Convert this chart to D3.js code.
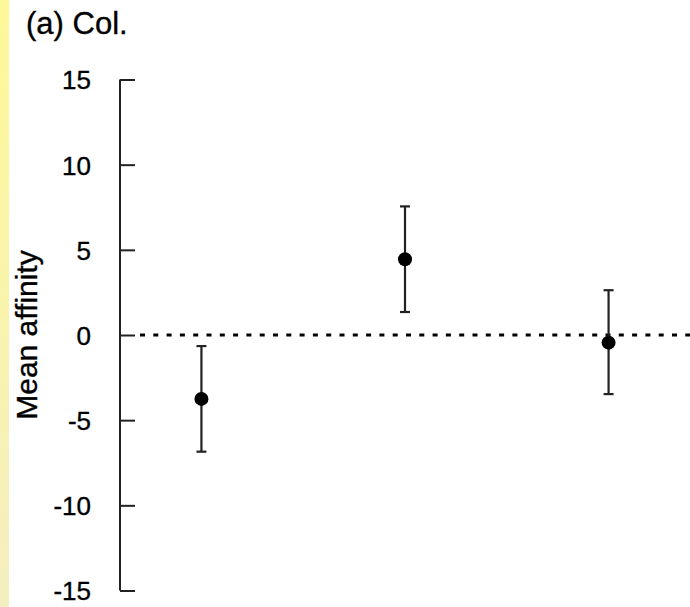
<!DOCTYPE html>
<html>
<head>
<meta charset="utf-8">
<script src="https://cdn.jsdelivr.net/npm/d3@7"></script>
<style>
html,body{margin:0;padding:0;background:#fff;}
svg{display:block;}
text{font-family:"Liberation Sans",Arial,sans-serif;fill:#000;stroke:#000;stroke-width:0.35px;}
</style>
</head>
<body>
<svg id="chart" width="690" height="607"></svg>
<script>
const categories = ["G1", "G2", "G3"];
const means = [-3.75, 4.45, -0.45];
const upper = [-0.65, 7.55, 2.63];
const lower = [-6.85, 1.35, -3.47];
const tickValues = [-15, -10, -5, 0, 5, 10, 15];
const title = "(a) Col.";
const yLabel = "Mean affinity";

const data = categories.map((c, i) => ({cat: c, mean: means[i], hi: upper[i], lo: lower[i]}));

const svg = d3.select("#chart");

// left yellow strip
const defs = svg.append("defs");
const grad = defs.append("linearGradient").attr("id", "strip").attr("x1", 0).attr("y1", 0).attr("x2", 0).attr("y2", 1);
grad.append("stop").attr("offset", "0%").attr("stop-color", "#fef898");
grad.append("stop").attr("offset", "100%").attr("stop-color", "#f4efc0");
svg.append("rect").attr("x", 0).attr("y", 0).attr("width", 9).attr("height", 607).attr("fill", "url(#strip)");

const x = d3.scalePoint().domain(categories).range([120, 690]).padding(0.4);
const y = d3.scaleLinear().domain([-15, 15]).range([590.5, 79.5]);

// axis
const axis = d3.axisLeft(y).tickValues(tickValues).tickSize(-15).tickPadding(0).tickFormat(d3.format("d"));
const gAxis = svg.append("g").attr("transform", "translate(120,0)").call(axis);
gAxis.select(".domain").remove();
gAxis.append("line").attr("x1", 0).attr("x2", 0).attr("y1", y(15)).attr("y2", y(-15))
  .attr("stroke", "#222").attr("stroke-width", 2);
gAxis.selectAll(".tick line").attr("stroke", "#222").attr("stroke-width", 2);
gAxis.selectAll(".tick text").attr("x", -29).attr("font-size", 26).attr("fill", "#000")
  .attr("font-family", "Liberation Sans, Arial, sans-serif").attr("dy", "0.36em")
  .text(d => d < 0 ? "-" + Math.abs(d) : d);

// zero reference line
svg.append("line").attr("x1", 140).attr("x2", 690).attr("y1", y(0)).attr("y2", y(0))
  .attr("stroke", "#000").attr("stroke-width", 3).attr("stroke-dasharray", "5 8.3");

// error bars
const g = svg.append("g");
const bars = g.selectAll("g.bar").data(data).join("g").attr("class", "bar");
bars.append("line").attr("x1", d => x(d.cat)).attr("x2", d => x(d.cat))
  .attr("y1", d => y(d.hi)).attr("y2", d => y(d.lo)).attr("stroke", "#222").attr("stroke-width", 2.2);
bars.append("line").attr("x1", d => x(d.cat) - 5).attr("x2", d => x(d.cat) + 5)
  .attr("y1", d => y(d.hi)).attr("y2", d => y(d.hi)).attr("stroke", "#222").attr("stroke-width", 2.2);
bars.append("line").attr("x1", d => x(d.cat) - 5).attr("x2", d => x(d.cat) + 5)
  .attr("y1", d => y(d.lo)).attr("y2", d => y(d.lo)).attr("stroke", "#222").attr("stroke-width", 2.2);
bars.append("circle").attr("cx", d => x(d.cat)).attr("cy", d => y(d.mean)).attr("r", 7).attr("fill", "#000");

// title
svg.append("text").attr("x", 26).attr("y", 34).attr("font-size", 31).text(title);

// y label
svg.append("text").attr("transform", `translate(37,${(y(15)+y(-15))/2}) rotate(-90)`)
  .attr("text-anchor", "middle").attr("font-size", 30).text(yLabel);
</script>
</body>
</html>
